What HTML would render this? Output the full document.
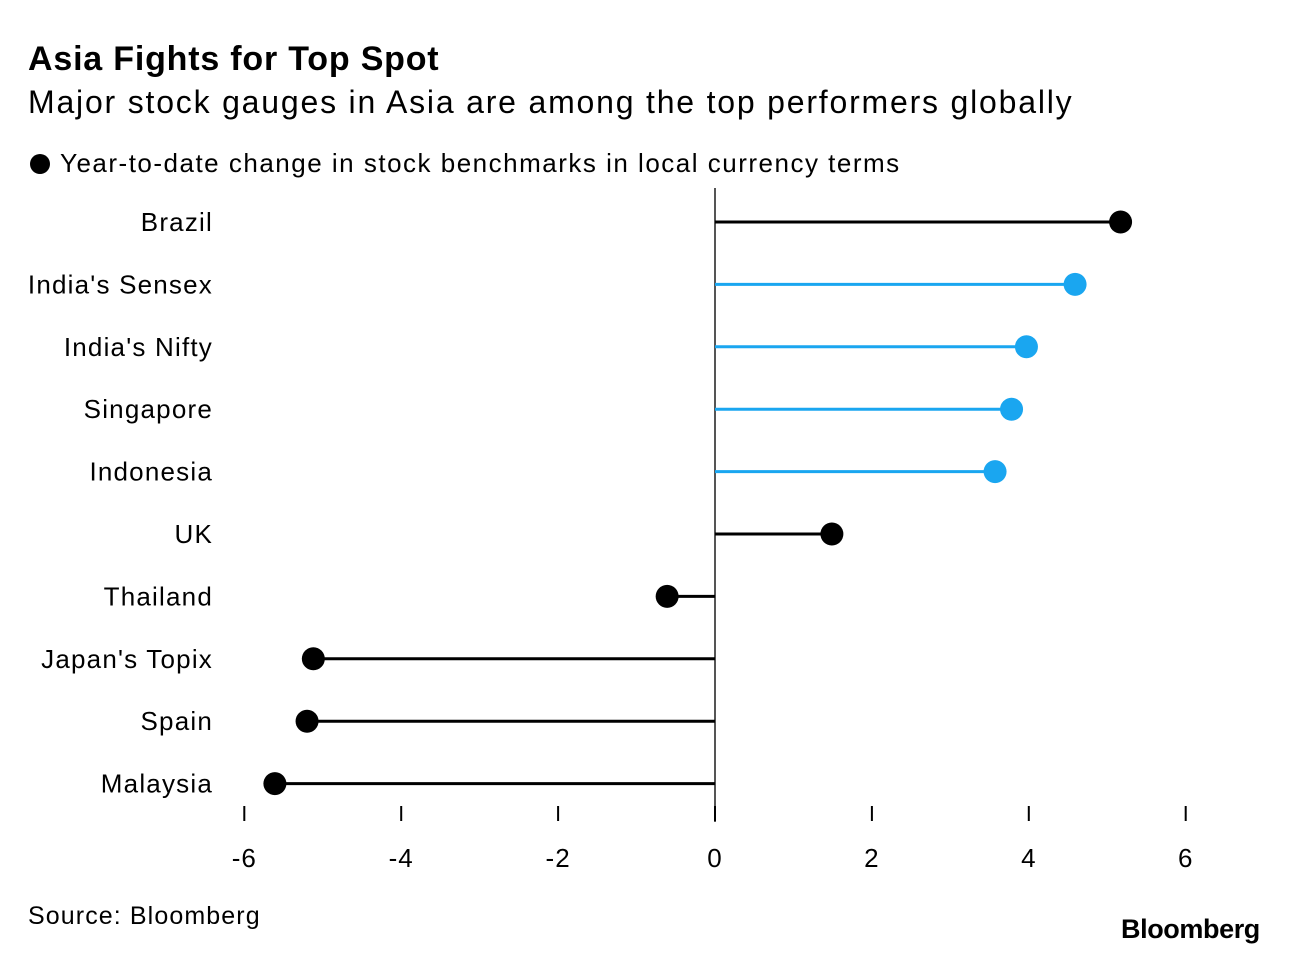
<!DOCTYPE html>
<html><head><meta charset="utf-8"><style>
body{margin:0;background:#fff;width:1290px;height:956px;overflow:hidden;font-family:"Liberation Sans",sans-serif;color:#000}
.t{position:absolute;white-space:nowrap}
</style></head><body>
<div class="t" style="left:28px;top:40px;font-size:34px;font-weight:bold;letter-spacing:0.8px">Asia Fights for Top Spot</div>
<div class="t" style="left:28px;top:84px;font-size:32px;letter-spacing:1.8px">Major stock gauges in Asia are among the top performers globally</div>
<div class="t" style="left:30px;top:148px;font-size:26px;letter-spacing:1.5px"><span style="display:inline-block;width:20px;height:20px;border-radius:50%;background:#000;vertical-align:-2px;margin-right:10px"></span>Year-to-date change in stock benchmarks in local currency terms</div>
<svg id="c" width="1290" height="956" style="position:absolute;left:0;top:0"></svg>
<div class="t" style="left:28px;top:902px;font-size:25px;letter-spacing:1.1px">Source: Bloomberg</div>
<div class="t" style="left:1121px;top:914px;font-size:27px;font-weight:bold;letter-spacing:-0.4px">Bloomberg</div>
<script>
const categories=["Brazil","India's Sensex","India's Nifty","Singapore","Indonesia","UK","Thailand","Japan's Topix","Spain","Malaysia"];
const values=[5.17,4.59,3.97,3.78,3.57,1.49,-0.61,-5.12,-5.2,-5.61];
const highlight=[false,true,true,true,true,false,false,false,false,false];
const ticks=[-6,-4,-2,0,2,4,6];
const ns="http://www.w3.org/2000/svg",svg=document.getElementById('c');
const x=v=>715+v*78.45, y=i=>222+i*62.4;
function mk(t,a){const e=document.createElementNS(ns,t);for(const k in a)e.setAttribute(k,a[k]);svg.appendChild(e);return e;}
const z=mk('line',{x1:x(0),x2:x(0),y1:188,y2:822,stroke:'#555','stroke-width':2});


ticks.forEach(t=>{
 const l=mk('line',{x1:x(t),x2:x(t),y1:806,y2:821,stroke:'#000','stroke-width':2});
 
 
 const tx=mk('text',{x:x(t),y:867,'text-anchor':'middle','font-size':26,'letter-spacing':1,'font-family':'Liberation Sans, sans-serif'});
 tx.textContent=t;
 
 
});
categories.forEach((c,i)=>{
 const col=highlight[i]?'#1aa6f0':'#000';
 const lb=mk('text',{x:213,y:y(i)+9,'text-anchor':'end','font-size':26,'letter-spacing':1.2,'font-family':'Liberation Sans, sans-serif'});
 lb.textContent=c;
 
 
 const ln=mk('line',{x1:x(0),x2:x(values[i]),y1:y(i),y2:y(i),stroke:col,'stroke-width':3});
 
 
 const d=mk('circle',{cx:x(values[i]),cy:y(i),r:11.5,fill:col});
 
 
});
</script>
</body></html>
